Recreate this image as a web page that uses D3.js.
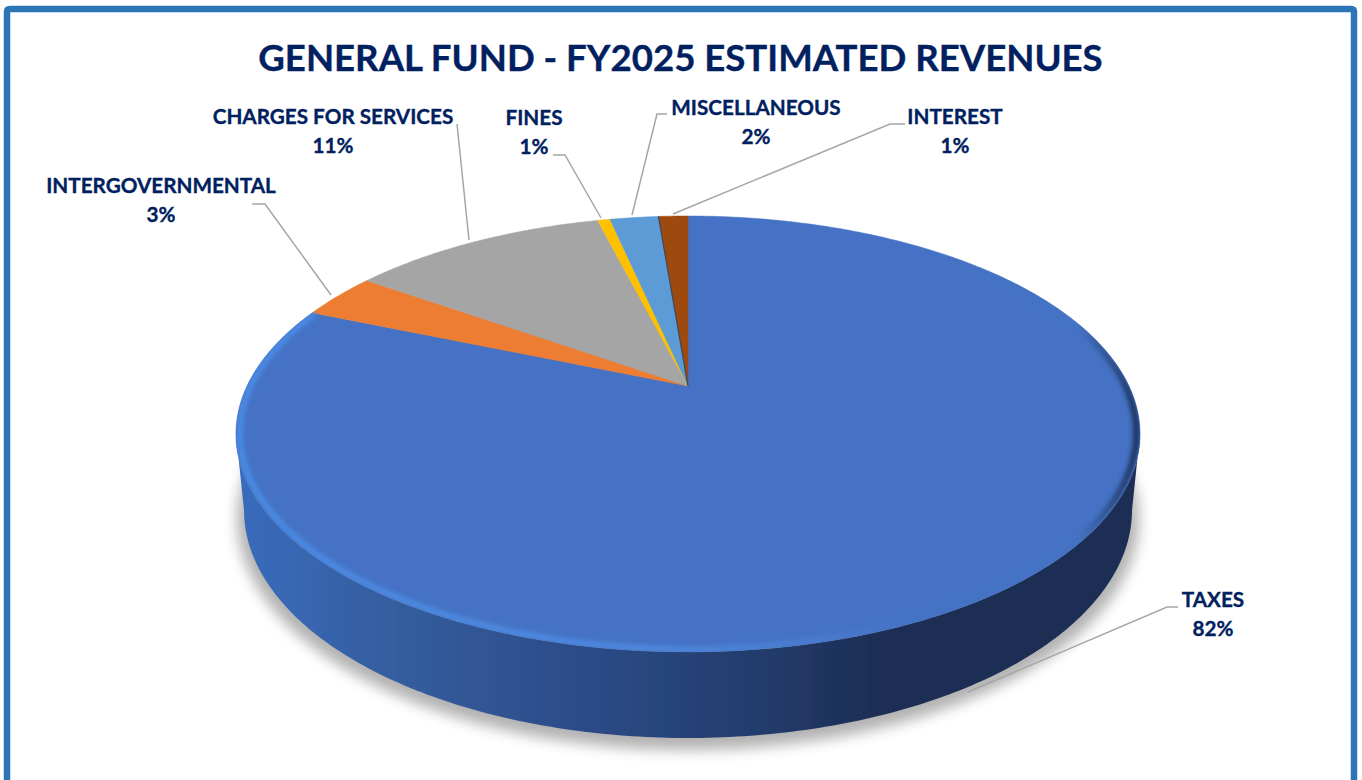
<!DOCTYPE html>
<html>
<head>
<meta charset="utf-8">
<script src="https://cdn.jsdelivr.net/npm/d3@7/dist/d3.min.js"></script>
<style>
html,body{margin:0;padding:0;background:#fff;overflow:hidden}
text{font-family:Lato,"Open Sans",sans-serif;font-weight:700;fill:#002060;stroke:#002060;stroke-width:0.35;text-anchor:middle}
</style>
</head>
<body>
<script>
const titleText = "GENERAL FUND - FY2025 ESTIMATED REVENUES";
const categories = ["TAXES","INTERGOVERNMENTAL","CHARGES FOR SERVICES","FINES","MISCELLANEOUS","INTEREST"];
const values = [81.25,3.45,11.3,0.55,2.15,1.3];
const percentLabels = ["82%","3%","11%","1%","2%","1%"];
const colors = ["#4472C4","#ED7D31","#A5A5A5","#FFC000","#5B9BD5","#9E480E"];

const W=1362,H=780;
const apex={x:688,y:386}, R=441, S=207.4, K=0.22;
const bottomEllipse={cx:688,cy:510,a:444,b:228};
const topEllipse={cx:688,cy:434,a:452,b:218};

// label layout: [centre x, first baseline]
const labelPos=[[1213,607],[161,193],[333,124],[534,125],[756,115],[955,124]];
// leader layout: points from the label toward the slice
const leaders=[
 [[1178,607],[1167,607],[968,692]],
 [[252,204],[265,204],[331,295]],
 [[457,124],[469,240]],
 [[553,155],[565,155],[601,218]],
 [[667,114],[657,114],[632,215]],
 [[905,124],[890,124],[673,214]]
];

// perspective projection of the pie disc
function project(theta,r=1){
  const u=Math.sin(theta)*r, v=-Math.cos(theta)*r, w=1-K*v;
  return [apex.x+R*u/w, apex.y+S*v/w];
}
const arcPts=(a0,a1,r=1)=>{
  const n=Math.max(2,Math.ceil(Math.abs(a1-a0)/0.01));
  return d3.range(n+1).map(i=>project(a0+(a1-a0)*i/n,r));
};
const line=d3.line();

const svg=d3.select("body").append("svg").attr("width",W).attr("height",H).style("display","block");
const defs=svg.append("defs");
defs.append("filter").attr("id","shadow").attr("x","-10%").attr("y","-10%").attr("width","120%").attr("height","120%")
  .append("feGaussianBlur").attr("stdDeviation",7);
defs.append("filter").attr("id","soft").attr("x","-5%").attr("y","-5%").attr("width","110%").attr("height","110%")
  .append("feGaussianBlur").attr("stdDeviation",2);
defs.append("filter").attr("id","edge").attr("x","-5%").attr("y","-5%").attr("width","110%").attr("height","110%")
  .append("feGaussianBlur").attr("stdDeviation",0.5);

const sideG=defs.append("linearGradient").attr("id","side").attr("gradientUnits","userSpaceOnUse")
  .attr("x1",236).attr("x2",1140).attr("y1",0).attr("y2",0);
[[0,"#3a6cbd"],[0.17,"#345e9f"],[0.38,"#2c4c88"],[0.6,"#223a69"],[0.72,"#1b2d52"],[1,"#1b2d52"]]
  .forEach(s=>sideG.append("stop").attr("offset",s[0]).attr("stop-color",s[1]));
const rimG=defs.append("linearGradient").attr("id","rim").attr("gradientUnits","userSpaceOnUse")
  .attr("x1",236).attr("x2",1140).attr("y1",0).attr("y2",0);
[[0,"#4a8ae4"],[0.45,"#4f88de"],[0.62,"#4a7dd0"],[0.74,"#4472C4"],[0.93,"#4472C4"],[1,"#1c3059"]]
  .forEach(s=>rimG.append("stop").attr("offset",s[0]).attr("stop-color",s[1]));

// frame
svg.append("path")
  .attr("d",`M7,${H+10}V12Q7,9 10,9H1351Q1354,9 1354,12V${H+10}`)
  .attr("fill","none").attr("stroke","#2E75B6").attr("stroke-width",6.5);

// title
svg.append("text").attr("x",680.5).attr("y",70.5).attr("font-size",36.6).text(titleText);

// shadow
svg.append("ellipse")
  .attr("cx",bottomEllipse.cx).attr("cy",bottomEllipse.cy+9)
  .attr("rx",bottomEllipse.a+7).attr("ry",bottomEllipse.b+3)
  .attr("fill","#000").attr("opacity",0.3).attr("filter","url(#shadow)");

// side wall: lower half of bottom ellipse closed against the lower half of the top rim
const ellipsePts=(e,from,to)=>d3.range(0,201).map(i=>{
  const t=from+(to-from)*i/200;
  return [e.cx+e.a*Math.cos(t), e.cy+e.b*Math.sin(t)];
});
const sidePts=[...ellipsePts(bottomEllipse,Math.PI,0),...ellipsePts(topEllipse,0,Math.PI)];
svg.append("path").attr("d",line(sidePts)+"Z").attr("fill","url(#side)").attr("filter","url(#edge)");

// top face
const pie=d3.pie().sort(null).value(d=>d).startAngle(0).endAngle(2*Math.PI);
const arcs=pie(values);
svg.append("g").selectAll("path").data(arcs).join("path")
  .attr("d",d=>line([[apex.x,apex.y],...arcPts(d.startAngle,d.endAngle)])+"Z")
  .attr("fill",(d,i)=>colors[i])
  .attr("stroke",(d,i)=>colors[i]).attr("stroke-width",0.5)
  .attr("filter","url(#edge)");

// dark sliver on the left side of the last slice
const last=arcs[arcs.length-1];
svg.append("path").attr("d",line([[apex.x,apex.y],project(last.startAngle)]))
  .attr("stroke","#3c4b60").attr("stroke-width",1.2).attr("fill","none");

// bevel highlight along the rim of the first slice
defs.append("clipPath").attr("id","faceClip").append("path")
  .attr("d",line(arcPts(0,2*Math.PI))+"Z");
const tax=arcs[0];
svg.append("g").attr("clip-path","url(#faceClip)")
  .append("path")
  .attr("d",line(arcPts(tax.startAngle+0.9,tax.endAngle,0.992)))
  .attr("fill","none").attr("stroke","url(#rim)").attr("stroke-width",6.5)
  .attr("filter","url(#soft)");

// leaders
svg.append("g").selectAll("path").data(leaders).join("path")
  .attr("d",d=>line(d)).attr("fill","none").attr("stroke","#A6A6A6").attr("stroke-width",1.5);

// labels
const labels=svg.append("g").selectAll("g").data(categories).join("g");
labels.append("text").attr("x",(d,i)=>labelPos[i][0]).attr("y",(d,i)=>labelPos[i][1])
  .attr("font-size",20.7).text(d=>d);
labels.append("text").attr("x",(d,i)=>labelPos[i][0]).attr("y",(d,i)=>labelPos[i][1]+29)
  .attr("font-size",20.7).text((d,i)=>percentLabels[i]);
</script>
</body>
</html>
